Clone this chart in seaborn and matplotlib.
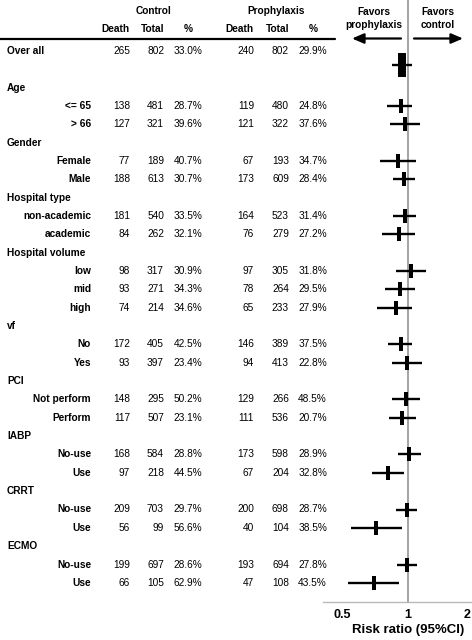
import matplotlib
matplotlib.use("Agg")
import matplotlib.pyplot as plt
import matplotlib.transforms as mtransforms
import seaborn as sns
import numpy as np

# ---- data ----
overall_label = "Over all"
headings = ["Age", "Gender", "Hospital type", "Hospital volume", "vf", "PCI", "IABP", "CRRT", "ECMO"]
levels = [
    ["<= 65", "> 66"],
    ["Female", "Male"],
    ["non-academic", "academic"],
    ["low", "mid", "high"],
    ["No", "Yes"],
    ["Not perform", "Perform"],
    ["No-use", "Use"],
    ["No-use", "Use"],
    ["No-use", "Use"],
]

# first entry is "Over all", then the subgroups in order
ctrl_death = [265, 138, 127, 77, 188, 181, 84, 98, 93, 74, 172, 93, 148, 117, 168, 97, 209, 56, 199, 66]
ctrl_total = [802, 481, 321, 189, 613, 540, 262, 317, 271, 214, 405, 397, 295, 507, 584, 218, 703, 99, 697, 105]
ctrl_pct = [33.0, 28.7, 39.6, 40.7, 30.7, 33.5, 32.1, 30.9, 34.3, 34.6, 42.5, 23.4, 50.2, 23.1, 28.8, 44.5, 29.7, 56.6, 28.6, 62.9]
pro_death = [240, 119, 121, 67, 173, 164, 76, 97, 78, 65, 146, 94, 129, 111, 173, 67, 200, 40, 193, 47]
pro_total = [802, 480, 322, 193, 609, 523, 279, 305, 264, 233, 389, 413, 266, 536, 598, 204, 698, 104, 694, 108]
pro_pct = [29.9, 24.8, 37.6, 34.7, 28.4, 31.4, 27.2, 31.8, 29.5, 27.9, 37.5, 22.8, 48.5, 20.7, 28.9, 32.8, 28.7, 38.5, 27.8, 43.5]

rr = [0.94, 0.92, 0.97, 0.89, 0.96, 0.97, 0.90, 1.03, 0.91, 0.87, 0.92, 0.99, 0.98, 0.94, 1.01, 0.80, 0.99, 0.70, 0.99, 0.68]
rr_lo = [0.84, 0.79, 0.82, 0.73, 0.85, 0.85, 0.75, 0.87, 0.77, 0.71, 0.80, 0.84, 0.84, 0.81, 0.89, 0.67, 0.87, 0.53, 0.88, 0.51]
rr_hi = [1.04, 1.05, 1.14, 1.09, 1.08, 1.09, 1.08, 1.22, 1.08, 1.05, 1.05, 1.17, 1.14, 1.09, 1.15, 0.96, 1.10, 0.93, 1.11, 0.90]

x_ticks = [0.5, 1, 2]
x_tick_labels = ["0.5", "1", "2"]

# ---- layout ----
sns.set_style("white")
plt.rcParams["font.family"] = ["Liberation Sans", "DejaVu Sans"]
plt.rcParams["text.color"] = "black"
plt.rcParams["axes.labelcolor"] = "black"
plt.rcParams["xtick.color"] = "black"

W, H = 472, 640
fig = plt.figure(figsize=(W / 100, H / 100), dpi=100)

row_px = 18.34
top_px = 51           # centre of the "Over all" row
axis_px = 602         # y pixel of the x axis line
left_px = 323
ax = fig.add_axes([left_px / W, (H - axis_px) / H, 1 - left_px / W, axis_px / H])

# build row positions
sub_labels = [overall_label]
sub_rows = [0]
head_rows = []
r = 2
for h, lv in zip(headings, levels):
    head_rows.append(r)
    r += 1
    for name in lv:
        sub_labels.append(name)
        sub_rows.append(r)
        r += 1

# overall marker sits a little below its text row
marker_rows = list(sub_rows)
marker_rows[0] = 0.75

ppd = 62.0  # pixels per doubling
ax.set_xscale("log", base=2)
ax.set_xlim(2 ** ((left_px - 408) / ppd), 2 ** ((W - 408) / ppd))
ax.set_ylim((axis_px - top_px) / row_px, -top_px / row_px)

# forest marks
ax.axvline(1, color="#8a8a8a", lw=1.1, zorder=1)
ax.hlines(marker_rows, rr_lo, rr_hi, color="black", lw=1.7, zorder=2)
box = [(-0.36, -1), (0.36, -1), (0.36, 1), (-0.36, 1), (-0.36, -1)]
sns.scatterplot(x=rr[:1], y=marker_rows[:1], marker=box, s=280, color="black",
                linewidth=0, ax=ax, legend=False, zorder=3)
sns.scatterplot(x=rr[1:], y=marker_rows[1:], marker=box, s=88, color="black",
                linewidth=0, ax=ax, legend=False, zorder=3)

for side in ["top", "left", "right"]:
    ax.spines[side].set_visible(False)
ax.spines["bottom"].set_color("#b8b8b8")
ax.spines["bottom"].set_linewidth(1.0)
ax.set_yticks([])
ax.set_xticks(x_ticks)
ax.set_xticklabels(x_tick_labels, fontsize=9, fontweight="bold", color="black")
ax.xaxis.set_minor_locator(matplotlib.ticker.NullLocator())
ax.tick_params(axis="x", length=0, pad=5)
# nudge outer tick labels like the original
for lab, dx in zip(ax.get_xticklabels(), [-4, 0, -3]):
    lab.set_transform(lab.get_transform() + mtransforms.ScaledTranslation(dx / 100, 0, fig.dpi_scale_trans))
ax.set_xlabel("Risk ratio (95%CI)", fontsize=9.5, fontweight="bold", color="black")
ax.xaxis.set_label_coords((408 - left_px) / (W - left_px), -(630 - axis_px) / axis_px)
ax.xaxis.label.set_va("center")

# ---- table text ----
trans = mtransforms.blended_transform_factory(fig.transFigure, ax.transData)
fx = lambda p: p / W
fs = 7.3

for h, rw in zip(headings, head_rows):
    ax.text(fx(7), rw, h, transform=trans, ha="left", va="center", fontsize=fs, fontweight="bold")
ax.text(fx(7), 0, overall_label, transform=trans, ha="left", va="center", fontsize=fs, fontweight="bold")
for name, rw in zip(sub_labels[1:], sub_rows[1:]):
    ax.text(fx(91), rw, name, transform=trans, ha="right", va="center", fontsize=fs, fontweight="bold")

cols = [
    (130, ctrl_death, "{}"), (164, ctrl_total, "{}"), (202, ctrl_pct, "{:.1f}%"),
    (254, pro_death, "{}"), (289, pro_total, "{}"), (327, pro_pct, "{:.1f}%"),
]
for xr, vals, f in cols:
    for v, rw in zip(vals, sub_rows):
        ax.text(fx(xr), rw, f.format(v), transform=trans, ha="right", va="center", fontsize=fs)

# headers
y_grp = (11 - top_px) / row_px
y_col = (29 - top_px) / row_px
y_line = (39 - top_px) / row_px
ax.text(fx(153), y_grp, "Control", transform=trans, ha="center", va="center", fontsize=fs, fontweight="bold")
ax.text(fx(276), y_grp, "Prophylaxis", transform=trans, ha="center", va="center", fontsize=fs, fontweight="bold")
for xr in [130, 254]:
    ax.text(fx(xr), y_col, "Death", transform=trans, ha="right", va="center", fontsize=fs, fontweight="bold")
for xr in [164, 289]:
    ax.text(fx(xr), y_col, "Total", transform=trans, ha="right", va="center", fontsize=fs, fontweight="bold")
for xc in [188, 313]:
    ax.text(fx(xc), y_col, "%", transform=trans, ha="center", va="center", fontsize=fs, fontweight="bold")
ax.plot([0, fx(335)], [y_line, y_line], transform=trans, color="black", lw=1.6, clip_on=False)

# favours labels and arrows
y_fav1 = (12 - top_px) / row_px
y_fav2 = (25.5 - top_px) / row_px
ax.text(fx(374), y_fav1, "Favors", transform=trans, ha="center", va="center", fontsize=fs, fontweight="bold")
ax.text(fx(374), y_fav2, "prophylaxis", transform=trans, ha="center", va="center", fontsize=fs, fontweight="bold")
ax.text(fx(438), y_fav1, "Favors", transform=trans, ha="center", va="center", fontsize=fs, fontweight="bold")
ax.text(fx(438), y_fav2, "control", transform=trans, ha="center", va="center", fontsize=fs, fontweight="bold")
y_arr = (38.5 - top_px) / row_px
arrow = dict(arrowstyle="-|>,head_length=0.7,head_width=0.3", color="black", lw=1.6,
             shrinkA=0, shrinkB=0, mutation_scale=10)
ax.annotate("", xy=(fx(352), y_arr), xytext=(fx(401), y_arr), xycoords=trans,
            textcoords=trans, arrowprops=arrow, annotation_clip=False)
ax.annotate("", xy=(fx(463), y_arr), xytext=(fx(414), y_arr), xycoords=trans,
            textcoords=trans, arrowprops=arrow, annotation_clip=False)

fig.savefig("out.png", dpi=100)
